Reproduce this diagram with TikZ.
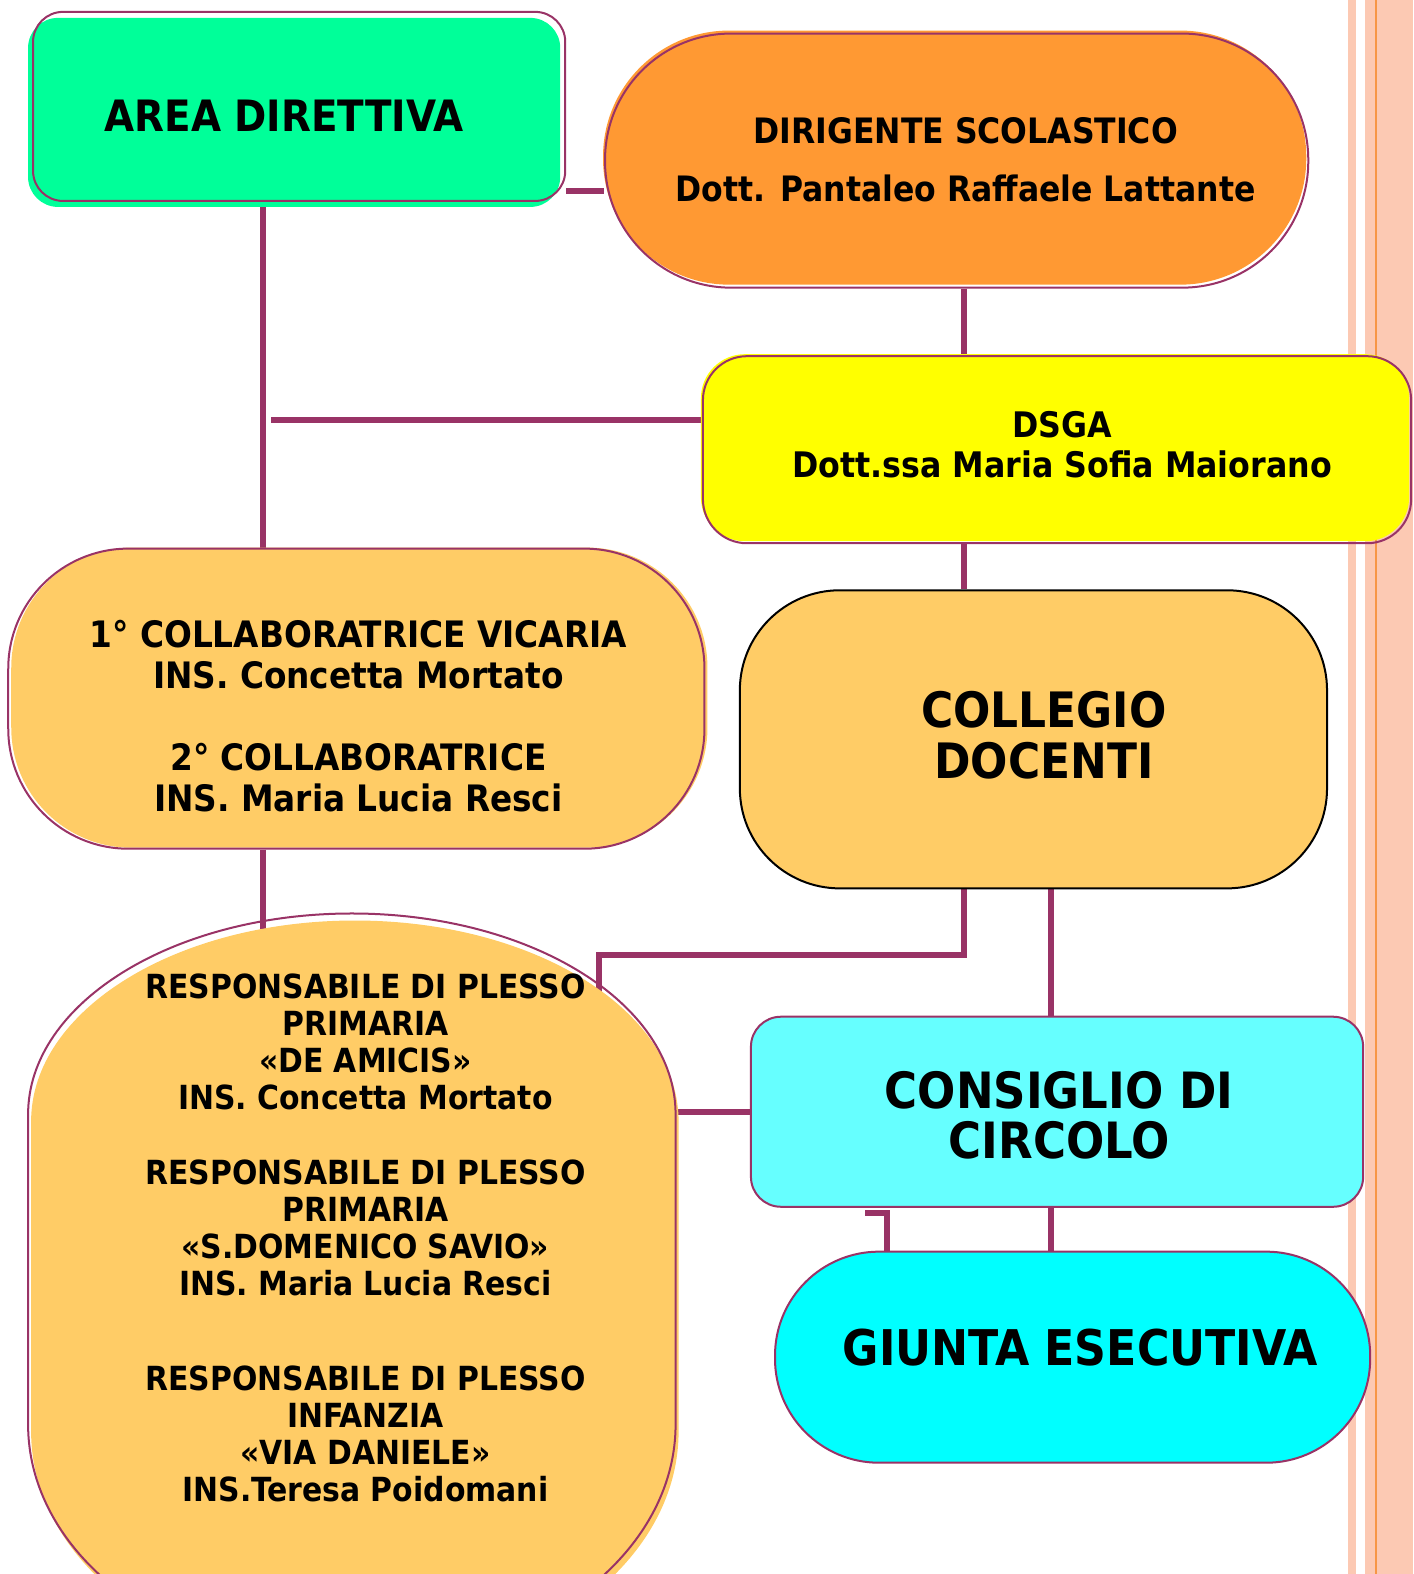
\documentclass[tikz,border=0pt]{standalone}
\usepackage{fontspec}
\setmainfont{DejaVu Sans Condensed}[BoldFont={DejaVu Sans Condensed Bold}]
\usepackage{tikz}
\usetikzlibrary{backgrounds}

\definecolor{linkcol}{HTML}{993366}
\definecolor{greenfill}{HTML}{00FF99}
\definecolor{orangefill}{HTML}{FF9933}
\definecolor{yellowfill}{HTML}{FFFF00}
\definecolor{peachfill}{HTML}{FFCC66}
\definecolor{cyanlight}{HTML}{66FFFF}
\definecolor{cyanfill}{HTML}{00FFFF}
\definecolor{stripecol}{HTML}{FCC9B3}
\definecolor{stripeline}{HTML}{F79646}

\tikzset{
  orgbox/.style n args={2}{draw=linkcol, line width=1pt, inner sep=0pt,
    preaction={fill=#1, transform canvas={shift={#2}}}},
  link/.style={draw=linkcol, line width=3pt},
  orgtext/.style={inner sep=0pt, align=center}
}

\begin{document}
\begin{tikzpicture}[x=0.50175pt, y=-0.50175pt]
\useasboundingbox (0,0) rectangle (1408,1568);
\clip (0,0) rectangle (1408,1568);
\fill[stripecol] (1343,0) rectangle (1351,1568);
\fill[stripecol] (1360,0) rectangle (1408,1568);
\draw[stripeline, line width=1pt] (1371,0) -- (1371,1568);

\path (298,106) node[orgbox={greenfill}{(-2.5pt,-3pt)}, rounded corners=15pt,
		minimum width=266pt, minimum height=94.5pt] (area) {}
	(953,160) node[orgbox={orangefill}{(-1pt,1.5pt)}, rounded corners=63pt,
		minimum width=351.5pt, minimum height=127pt] (dir) {}
	(1053,448) node[orgbox={yellowfill}{(-1pt,1pt)}, rounded corners=22pt,
		minimum width=354pt, minimum height=93.5pt] (dsga) {}
	(355,696) node[orgbox={peachfill}{(1.5pt,0.5pt)}, rounded corners=60pt,
		minimum width=348pt, minimum height=150pt] (collab) {}
	(1029.5,736.5) node[draw=black, line width=1pt, fill=peachfill, inner sep=0pt,
		rounded corners=50pt, minimum width=293.5pt, minimum height=149pt] (colleg) {}
	(1053,1107.5) node[orgbox={cyanlight}{(0pt,0pt)}, rounded corners=15pt,
		minimum width=306pt, minimum height=95pt] (consig) {}
	(1068.5,1352) node[orgbox={cyanfill}{(0pt,0pt)}, rounded corners=52pt,
		minimum width=297.5pt, minimum height=105.5pt] (giunta) {}
	;

\fill[peachfill, shift={(3,7)}] (28,1110) arc[start angle=180, end angle=360, x radius=322.5, y radius=200]
	-- (673,1419) arc[start angle=0, end angle=180, x radius=322.5, y radius=239] -- cycle;
\draw[linkcol, line width=1pt] (28,1110) arc[start angle=180, end angle=360, x radius=322.5, y radius=200]
	-- (673,1419) arc[start angle=0, end angle=180, x radius=322.5, y radius=239] -- cycle;

\path (283,115) node[orgtext, font=\bfseries\fontsize{21.6}{24}\selectfont] (areatext) {AREA DIRETTIVA}
	(962,159) node[orgtext, font=\bfseries\fontsize{17.5}{29}\selectfont] (dirtext)
		{DIRIGENTE SCOLASTICO\\Dott. Pantaleo Raffaele Lattante}
	(1058,443) node[orgtext, font=\bfseries\fontsize{17.6}{20}\selectfont] (dsgatext)
		{DSGA\\Dott.ssa Maria Sofia Maiorano}
	(357,713) node[orgtext, font=\bfseries\fontsize{18.2}{20.5}\selectfont] (collabtext)
		{1° COLLABORATRICE VICARIA\\INS. Concetta Mortato\\[20.5pt]2° COLLABORATRICE\\INS. Maria Lucia Resci}
	(364,1233) node[orgtext, font=\bfseries\fontsize{16.6}{18.5}\selectfont] (resp)
		{RESPONSABILE DI PLESSO\\PRIMARIA\\«DE AMICIS»\\INS. Concetta Mortato\\[19pt]
		RESPONSABILE DI PLESSO\\PRIMARIA\\«S.DOMENICO SAVIO»\\INS. Maria Lucia Resci\\[29pt]
		RESPONSABILE DI PLESSO\\INFANZIA\\«VIA DANIELE»\\INS.Teresa Poidomani}
	(1040,732) node[orgtext, font=\bfseries\fontsize{24.4}{25.5}\selectfont] (collegtext) {COLLEGIO\\DOCENTI}
	(1055,1111) node[orgtext, font=\bfseries\fontsize{25}{25}\selectfont] (consigtext) {CONSIGLIO DI\\CIRCOLO}
	(1076,1342) node[orgtext, font=\bfseries\fontsize{24.6}{26}\selectfont] (giuntatext) {GIUNTA ESECUTIVA}
	;

\coordinate (branch) at (270,418);
\coordinate (elbow) at (597,951);

\begin{scope}[on background layer]
\draw[link] (area.east |- 0,190) -- (dir.west |- 0,190);
\draw[link] (area.south -| 262,0) -- (collab.north -| 262,0);
\draw[link] (branch) -- (dsga.west |- branch);
\draw[link] (collab.south -| 262,0) -- (resp.center -| 262,0);
\draw[link] (dir.south -| 960,0) -- (dsga.north -| 960,0);
\draw[link] (dsga.south -| 960,0) -- (colleg.north -| 960,0);
\draw[link] (colleg.south -| 960,0) |- (elbow) -- (resp.center -| elbow);
\draw[link] (colleg.south -| 1047,0) -- (consig.north -| 1047,0);
\draw[link] (consig.west |- 0,1108) -- (resp.center |- 0,1108);
\draw[link] ([yshift=-2.5pt]consig.south -| 862,0) -| (giunta.north -| 884,0);
\draw[link] (consig.south -| 1047,0) -- (giunta.north -| 1047,0);
\end{scope}
\end{tikzpicture}
\end{document}
